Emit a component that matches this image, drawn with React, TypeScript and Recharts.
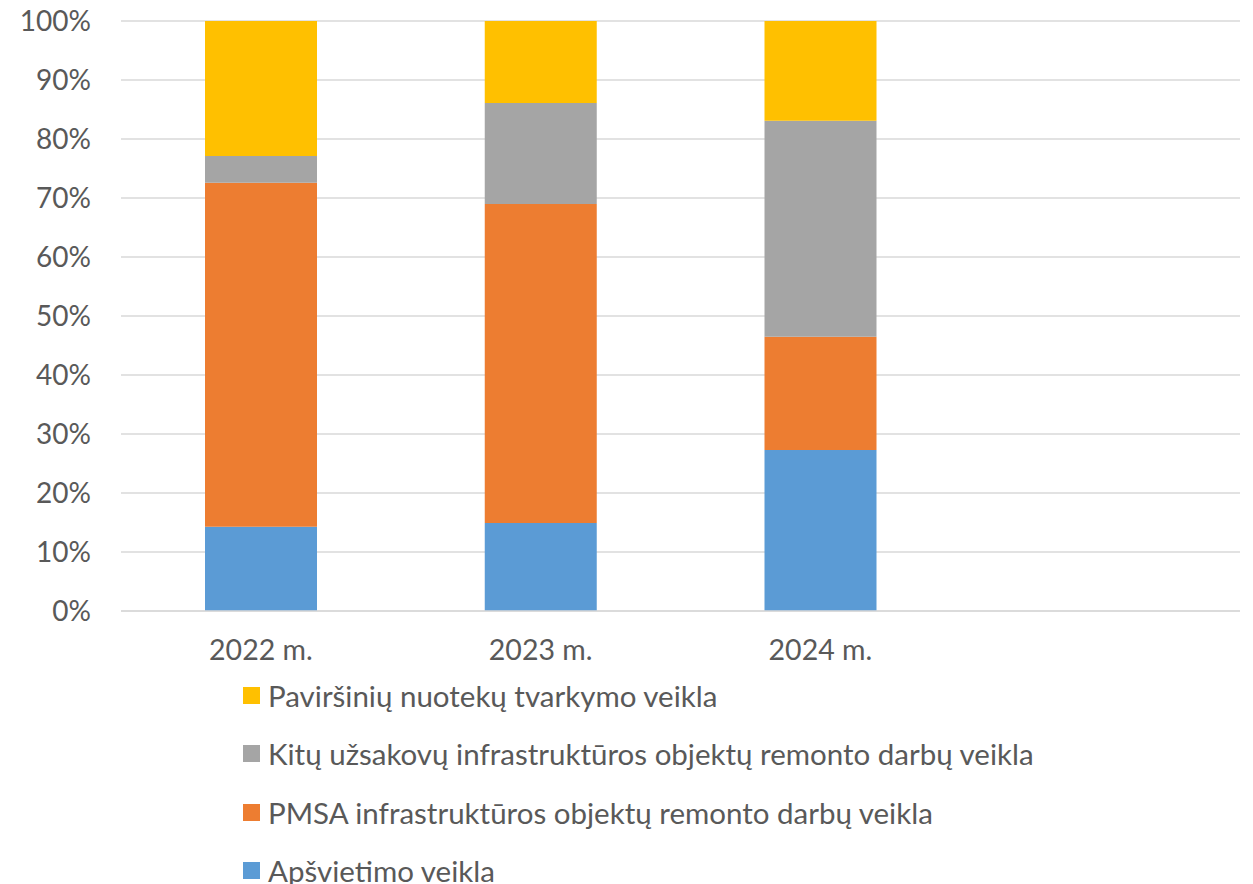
import React from 'react';
import { BarChart, Bar, XAxis, YAxis, CartesianGrid, Legend } from 'recharts';

// categories (the last slot is empty in the original)
const years = ['2022 m.', '2023 m.', '2024 m.', ''];

// shares, %
const apsvietimas = [14.3, 14.9, 27.3, null];
const pmsa = [58.3, 54.1, 19.2, null];
const kitu = [4.5, 17.1, 36.6, null];
const pavirsiniu = [22.9, 13.9, 16.9, null];

const yTicks = [0, 10, 20, 30, 40, 50, 60, 70, 80, 90, 100];

const series = [
  { key: 'apsvietimas', name: 'Apšvietimo veikla', color: '#5B9BD5' },
  { key: 'pmsa', name: 'PMSA infrastruktūros objektų remonto darbų veikla', color: '#ED7D31' },
  { key: 'kitu', name: 'Kitų užsakovų infrastruktūros objektų remonto darbų veikla', color: '#A5A5A5' },
  { key: 'pavirsiniu', name: 'Paviršinių nuotekų tvarkymo veikla', color: '#FFC000' },
];

const data = years.map((year, i) => ({
  year,
  apsvietimas: apsvietimas[i],
  pmsa: pmsa[i],
  kitu: kitu[i],
  pavirsiniu: pavirsiniu[i],
}));

const FONT = 'Lato, sans-serif';
const TEXT = '#595959';

// legend in reverse stacking order, top series first
function LegendList() {
  const items = [...series].reverse();
  return (
    <div style={{ fontFamily: FONT, fontSize: 29.5, color: TEXT }}>
      {items.map((s) => (
        <div key={s.key} style={{ display: 'flex', alignItems: 'center', height: 58.5 }}>
          <span style={{ width: 17, height: 17, background: s.color, marginRight: 8, display: 'inline-block' }} />
          <span style={{ whiteSpace: 'nowrap' }}>{s.name}</span>
        </div>
      ))}
    </div>
  );
}

export default function App() {
  return (
    <div style={{ position: 'absolute', left: 0, top: 0, background: '#fff' }}>
      <BarChart
        width={1253}
        height={884}
        data={data}
        margin={{ top: 21, right: 13, bottom: 243, left: 0 }}
        barSize={112}
      >
        <CartesianGrid vertical={false} stroke="#D9D9D9" strokeWidth={1.5} />
        <XAxis
          dataKey="year"
          height={30}
          axisLine={{ stroke: '#D9D9D9', strokeWidth: 1.5 }}
          tickLine={false}
          tickSize={0}
          tickMargin={29}
          tick={{ fill: TEXT, fontSize: 28.5, fontFamily: FONT }}
        />
        <YAxis
          width={121}
          domain={[0, 100]}
          ticks={yTicks}
          interval={0}
          tickFormatter={(v) => `${v}%`}
          axisLine={false}
          tickLine={false}
          tickSize={0}
          tickMargin={30}
          tick={{ fill: TEXT, fontSize: 28, fontFamily: FONT }}
        />
        <Legend
          content={<LegendList />}
          layout="vertical"
          wrapperStyle={{ position: 'absolute', left: 243, top: 666, width: 900, height: 0, overflow: 'visible' }}
        />
        {series.map((s) => (
          <Bar
            key={s.key}
            dataKey={s.key}
            name={s.name}
            stackId="a"
            fill={s.color}
            isAnimationActive={false}
          />
        ))}
      </BarChart>
    </div>
  );
}
